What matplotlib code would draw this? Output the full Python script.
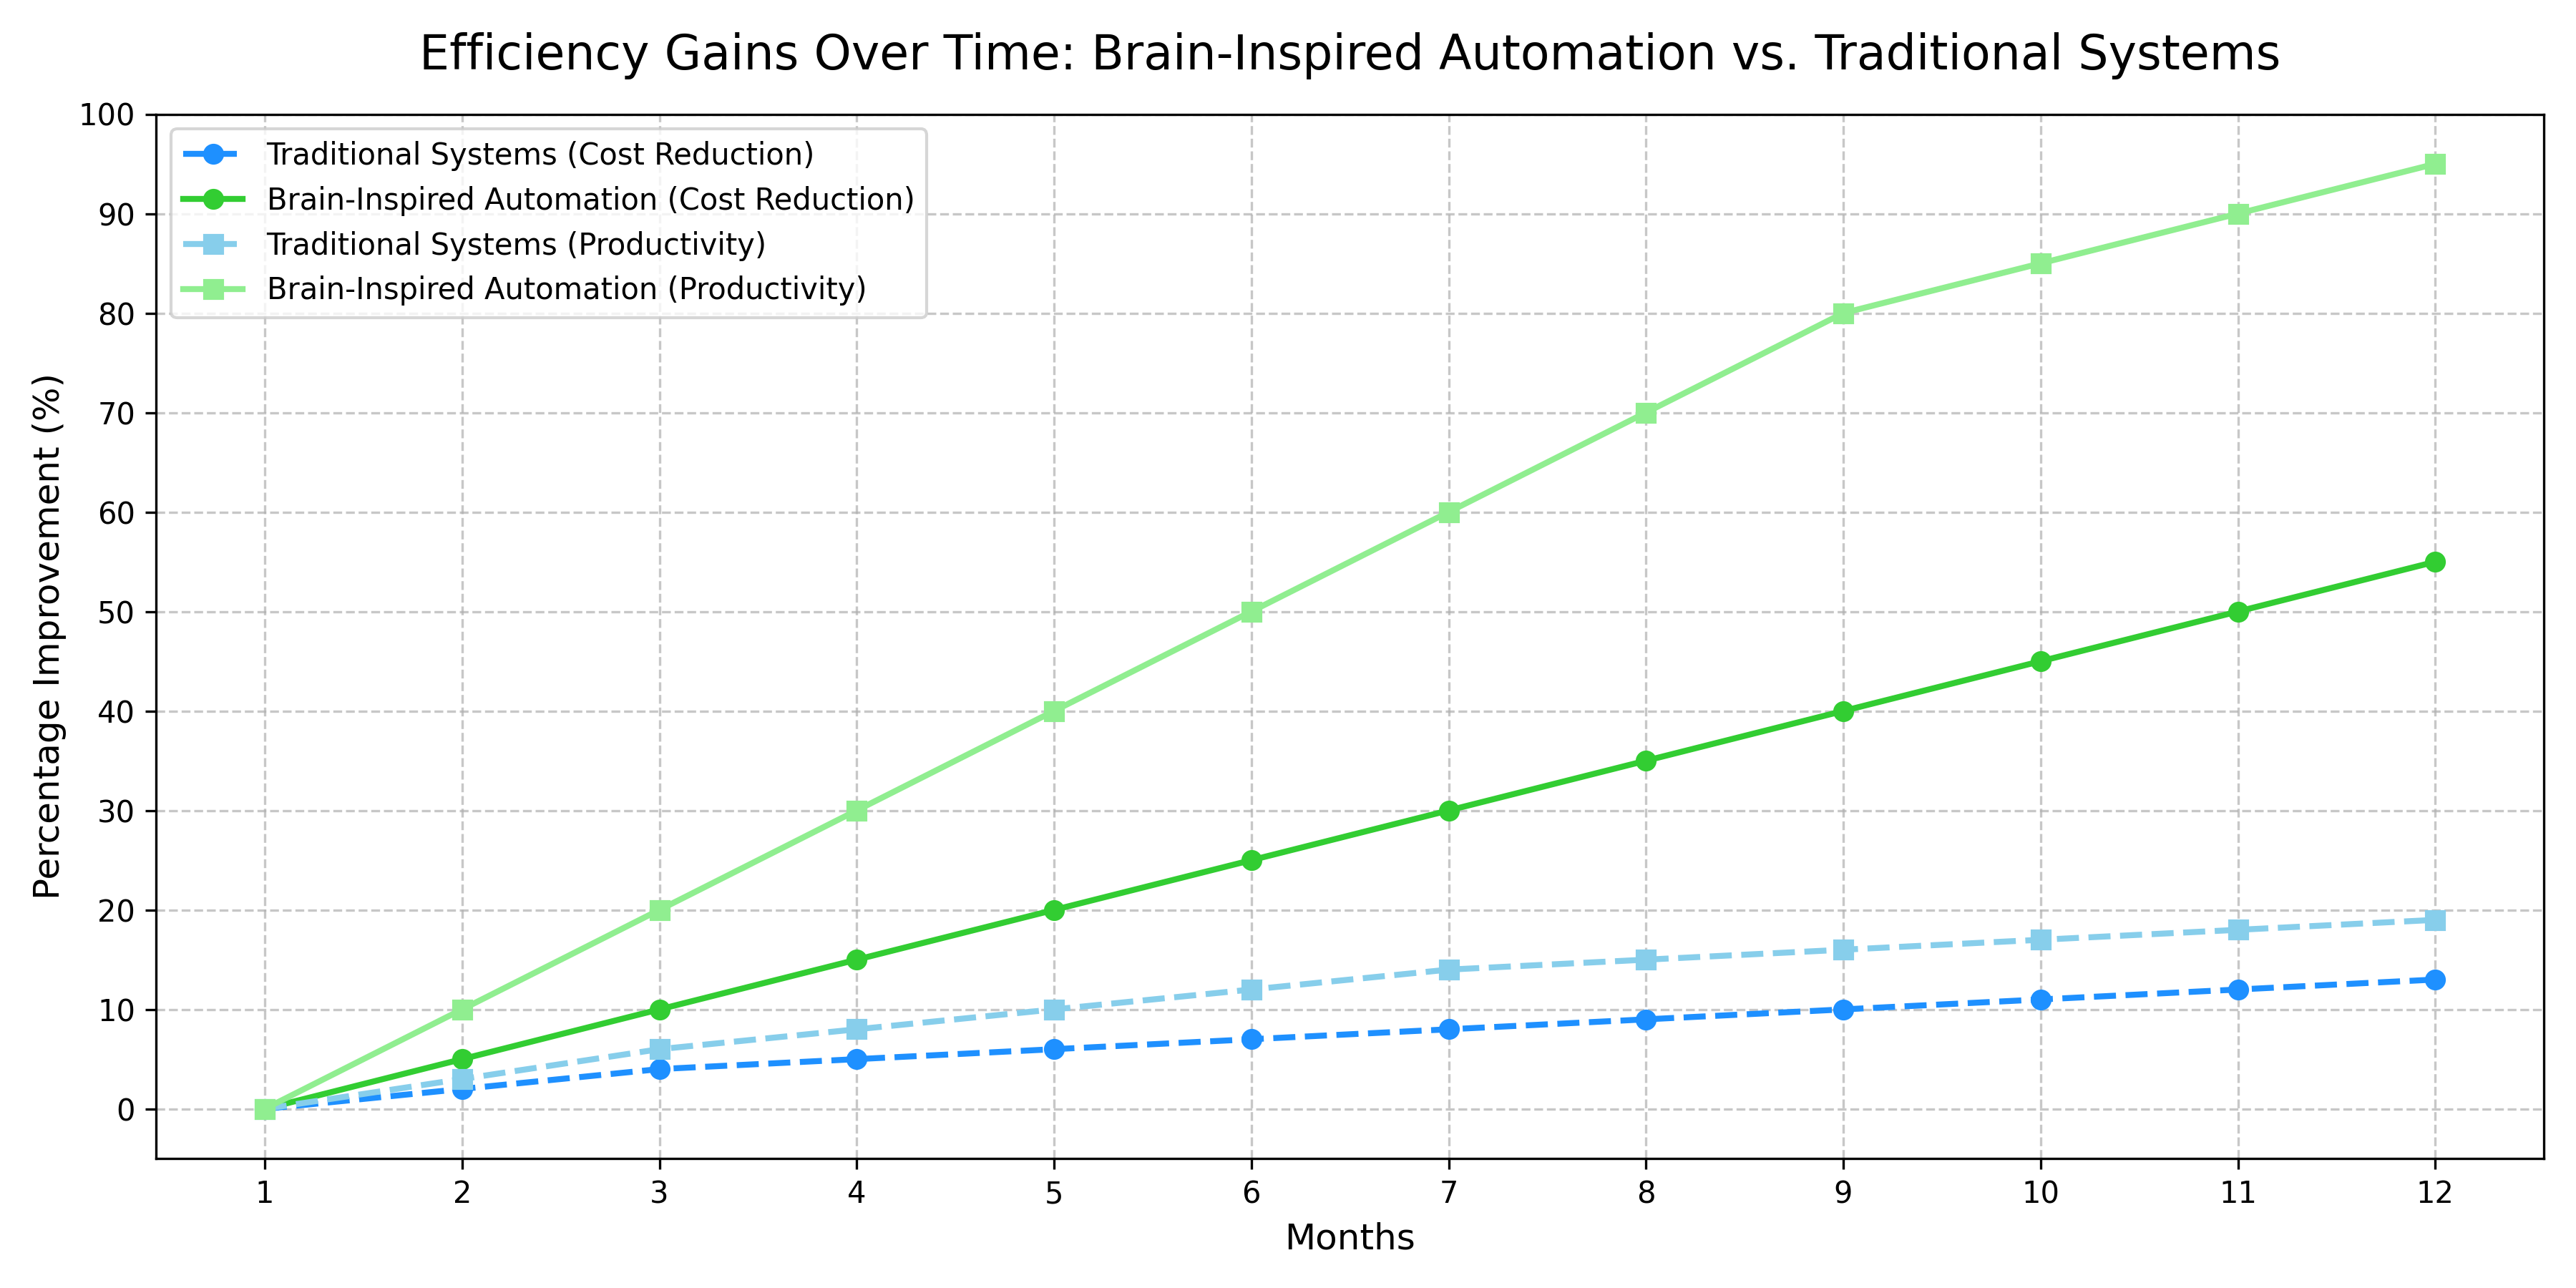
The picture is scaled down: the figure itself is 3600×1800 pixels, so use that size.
import matplotlib
matplotlib.use("Agg")
import matplotlib.pyplot as plt

months = list(range(1, 13))
trad_cost = [0, 2, 4, 5, 6, 7, 8, 9, 10, 11, 12, 13]
brain_cost = [0, 5, 10, 15, 20, 25, 30, 35, 40, 45, 50, 55]
trad_prod = [0, 3, 6, 8, 10, 12, 14, 15, 16, 17, 18, 19]
brain_prod = [0, 10, 20, 30, 40, 50, 60, 70, 80, 85, 90, 95]

fig, ax = plt.subplots(figsize=(12, 6), dpi=300)
ax.plot(months, trad_cost, 'o--', color='dodgerblue', lw=2, label='Traditional Systems (Cost Reduction)')
ax.plot(months, brain_cost, 'o-', color='limegreen', lw=2, label='Brain-Inspired Automation (Cost Reduction)')
ax.plot(months, trad_prod, 's--', color='skyblue', lw=2, label='Traditional Systems (Productivity)')
ax.plot(months, brain_prod, 's-', color='lightgreen', lw=2, label='Brain-Inspired Automation (Productivity)')

ax.set_title('Efficiency Gains Over Time: Brain-Inspired Automation vs. Traditional Systems', fontsize=16, pad=15)
ax.set_xlabel('Months', fontsize=12)
ax.set_ylabel('Percentage Improvement (%)', fontsize=12)
ax.set_xticks(months)
ax.set_yticks(range(0, 101, 10))
ax.set_ylim(-5, 100)
ax.grid(True, linestyle='--', alpha=0.7)
ax.legend(loc='upper left')
fig.tight_layout()
fig.savefig('out.png')
